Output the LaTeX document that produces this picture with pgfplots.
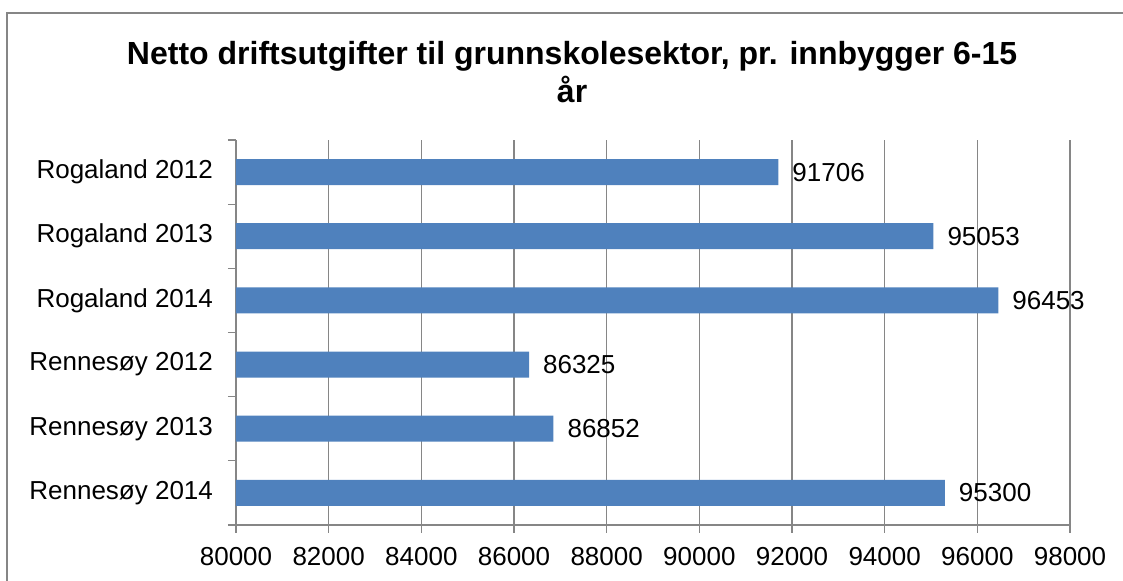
\documentclass[border=0pt]{standalone}
\usepackage{fontspec}
\setmainfont{Liberation Sans}
\usepackage{pgfplots}
\pgfplotsset{compat=1.18}
\definecolor{barblue}{RGB}{79,129,189}
\definecolor{gridgray}{RGB}{134,134,134}

\begin{document}
\begin{tikzpicture}
  % page size: 1123 x 581 px at 0.5pt per px, axis origin at (236,525) px
  \useasboundingbox (-118pt,-28pt) rectangle (443.5pt,262.5pt);
  \draw[gridgray, line width=0.6pt] (-114.5pt,-40pt) -- (-114.5pt,256pt) -- (460pt,256pt);
  \begin{axis}[
    at={(0pt,0pt)}, anchor=south west,
    scale only axis,
    width=417pt, height=192.5pt,
    xbar, bar width=13pt,
    xmin=80000, xmax=98000,
    ymin=-0.5, ymax=5.5,
    xtick distance=2000,
    scaled x ticks=false,
    ytick={-0.5,0.5,...,5.5},
    yticklabels={},
    extra y ticks={0,1,2,3,4,5},
    extra y tick labels={Rennesøy 2014,Rennesøy 2013,Rennesøy 2012,Rogaland 2014,Rogaland 2013,Rogaland 2012},
    extra y tick style={major tick length=0pt, yticklabel style={xshift=-8pt}},
    axis lines*=left,
    axis line style={gridgray, line width=0.6pt},
    tick align=outside,
    major tick length=4pt,
    tick style={gridgray, line width=0.6pt},
    xmajorgrids,
    grid style={gridgray, line width=0.6pt},
    font=\fontsize{13}{15}\selectfont,
    /pgf/number format/assume math mode=true,
    /pgf/number format/fixed,
    /pgf/number format/1000 sep={},
    xticklabel style={font=\fontsize{13}{15}\selectfont, yshift=-3.5pt},
    yticklabel style={font=\fontsize{13}{15}\selectfont},
    title={Netto driftsutgifter til grunnskolesektor, pr. innbygger 6-15\\år},
    title style={at={(0.403,1)}, anchor=center, yshift=28pt, align=center,
                 font=\fontsize{16}{19}\selectfont\bfseries},
    nodes near coords,
    nodes near coords align={horizontal},
    every node near coord/.append style={font=\fontsize{13}{15}\selectfont, xshift=3.5pt,
      /pgf/number format/1000 sep={}},
    clip=false,
  ]
    \addplot[fill=barblue, draw=none]
      coordinates {(95300,0) (86852,1) (86325,2) (96453,3) (95053,4) (91706,5)};
  \end{axis}
\end{tikzpicture}
\end{document}
